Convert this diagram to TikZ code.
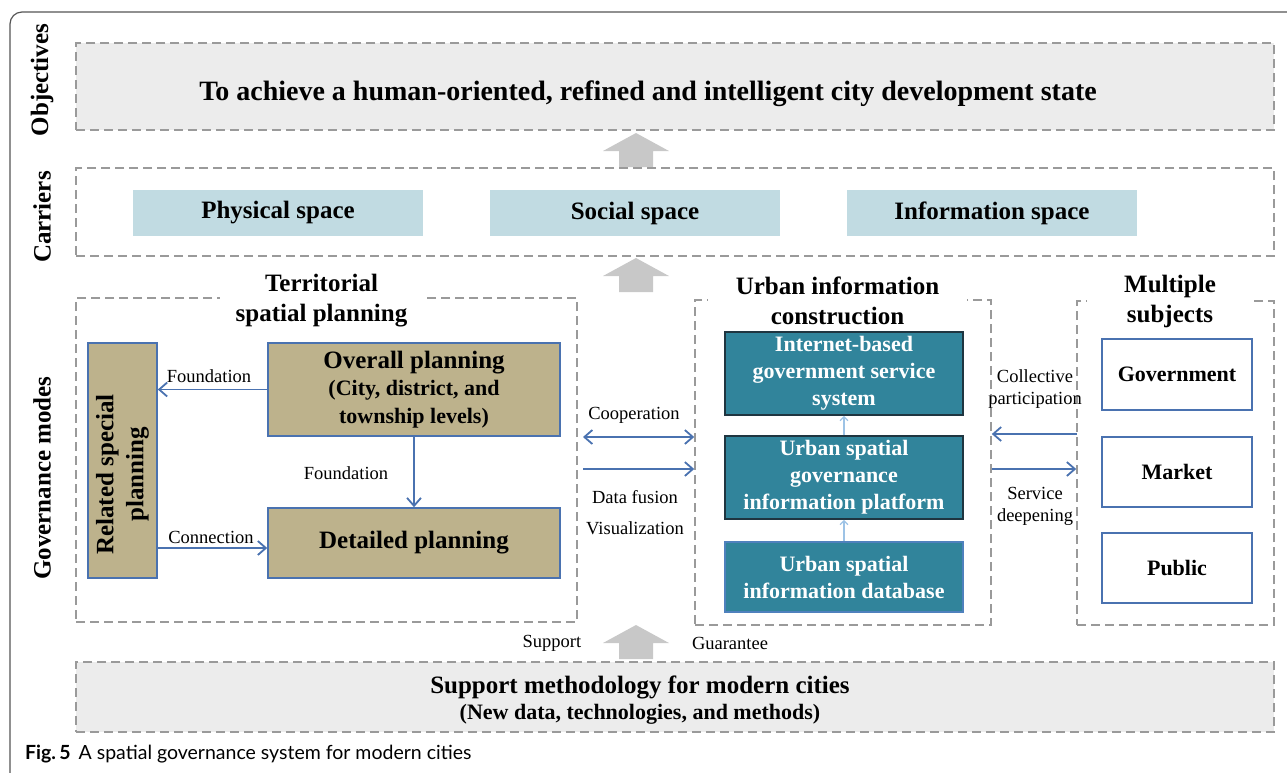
\documentclass[tikz,border=0pt]{standalone}
\usepackage{fontspec}
\setmainfont{Liberation Serif}
\newfontfamily\capfont{Lato}
\usetikzlibrary{arrows.meta}
\definecolor{dashgray}{HTML}{9A9A9A}
\definecolor{objfill}{HTML}{ECECEC}
\definecolor{carrierblue}{HTML}{C1DBE2}
\definecolor{khaki}{HTML}{BDB28C}
\definecolor{edgeblue}{HTML}{4A72B0}
\definecolor{tealbox}{HTML}{31849B}
\definecolor{tealedge}{HTML}{1F3540}
\definecolor{dbedge}{HTML}{4F81BD}
\definecolor{lightarrow}{HTML}{9DC3E6}
\definecolor{blockgray}{HTML}{C8C8C8}
\definecolor{framegray}{HTML}{555555}
\newcommand\fsTitle{\fontsize{25}{30}\selectfont\bfseries}
\newcommand\fsBig{\fontsize{28}{33}\selectfont\bfseries}
\newcommand\fsBox{\fontsize{22}{27}\selectfont\bfseries}
\newcommand\fsSub{\fontsize{22}{27.5}\selectfont\bfseries}
\newcommand\fsLbl{\fontsize{18.5}{22}\selectfont}
\tikzset{
  dashframe/.style={draw=dashgray, line width=1.6pt, dash pattern=on 9pt off 5pt, inner sep=0pt},
  greyframe/.style={dashframe, fill=objfill},
  carrier/.style={fill=carrierblue, minimum width=290pt, minimum height=46pt, inner sep=0pt, font=\fsTitle},
  plan/.style={fill=khaki, draw=edgeblue, line width=1.6pt, inner sep=0pt, align=center},
  tealnode/.style={fill=tealbox, draw=tealedge, line width=1.6pt, text=white, font=\fsBox, align=center, minimum width=238pt, inner sep=0pt},
  subject/.style={draw=edgeblue, line width=1.6pt, fill=white, minimum width=150pt, minimum height=70pt, font=\fsBox, inner sep=0pt},
  conn/.style={draw=edgeblue, line width=1.8pt, ->},
  biconn/.style={draw=edgeblue, line width=1.8pt, <->},
  smallarrow/.style={draw=lightarrow, line width=1.3pt, -{Straight Barb[length=4pt,width=8pt]}},
  lbl/.style={font=\fsLbl, inner sep=0pt, align=center},
  sidelbl/.style={font=\fsTitle, rotate=90, inner sep=0pt},
  titlelbl/.style={font=\fsTitle, fill=white, align=center, inner sep=0pt, minimum height=54pt},
  blockarrow/.pic={\fill[blockgray] (0,0) -- (33,18) -- (17,18) -- (17,34) -- (-17,34) -- (-17,18) -- (-33,18) -- cycle;}
}
\begin{document}
\begin{tikzpicture}[x=1pt,y=-1pt,>={Straight Barb[length=8pt,width=14pt]}]
\useasboundingbox (0,0) rectangle (1287,772);
% outer frame
\draw[framegray, line width=1.2pt, rounded corners=12pt] (10,790) -- (10,12) -- (1300,12);

% side labels
\node[sidelbl] (sObj) at (42,80) {Objectives};
\node[sidelbl] (sCar) at (42,217) {Carriers};
\node[sidelbl] (sGov) at (42,478) {Governance modes};

% objectives
\node[greyframe, minimum width=1198pt, minimum height=87pt] (obj) at (675,86.5) {};
\node[font=\fsBig, inner sep=0pt] (objT) at (648,94) {To achieve a human-oriented, refined and intelligent city development state};
\pic at (636,133) {blockarrow};

% carriers
\node[dashframe, minimum width=1198pt, minimum height=88pt] (car) at (675,212) {};
\node[carrier] (phys) at (278,213) {Physical space};
\node[carrier] (soc) at (635,213) {Social space};
\node[carrier] (info) at (992,213) {Information space};
\pic at (636,258) {blockarrow};

% territorial spatial planning
\node[dashframe, minimum width=501pt, minimum height=324pt] (tsp) at (326.5,460) {};
\node[titlelbl, minimum width=203pt] (tspT) at (321.5,301) {Territorial\\spatial planning};
\node[plan, rotate=90, minimum width=235pt, minimum height=69pt, font=\fsTitle] (rel) at (122.5,460.5)
  {Related special\hspace*{28pt}\\planning\hspace*{28pt}};
\node[plan, minimum width=292pt, minimum height=93pt, font=\fsSub] (ovr) at (414,389.5)
  {{\fsTitle Overall planning}\\(City, district, and\\township levels)};
\node[plan, minimum width=292pt, minimum height=70pt, font=\fsTitle] (det) at (414,543) {Detailed planning};
\draw[conn] (ovr.west) -- (ovr.west -| rel.south);
\node[lbl] (lf1) at (209,376) {Foundation};
\draw[conn] (ovr.south) -- (det.north);
\node[lbl] (lf2) at (346,473) {Foundation};
\draw[conn] ([yshift=-5pt]det.west -| rel.south) -- ([yshift=-5pt]det.west);
\node[lbl] (lcn) at (211,537) {Connection};

% urban information construction
\node[dashframe, minimum width=296pt, minimum height=325pt] (urb) at (843,462.5) {};
\node[titlelbl, minimum width=259pt] (urbT) at (837.5,301) {Urban information\\construction};
\node[tealnode, minimum height=83pt] (inet) at (844,373.5) {Internet-based\\government service\\system};
\node[tealnode, minimum height=83pt] (plat) at (844,477.5) {Urban spatial\\governance\\information platform};
\node[tealnode, draw=dbedge, minimum height=70pt] (db) at (844,577) {Urban spatial\\information database};
\draw[smallarrow] (db.north) -- (plat.south);
\draw[smallarrow] (plat.north) -- (inet.south);

% connectors between territorial and urban
\coordinate (coopL) at (583,437);
\coordinate (fusL) at (583,469);
\draw[biconn] (coopL) -- (coopL -| urb.west);
\draw[conn] (fusL) -- (fusL -| urb.west);
\node[lbl] (lcoop) at (634,415) {Cooperation};
\node[lbl] (lfus) at (635,497) {Data fusion};
\node[lbl] (lvis) at (635,528) {Visualization};

% multiple subjects
\node[dashframe, minimum width=197pt, minimum height=324pt] (mul) at (1175.5,463) {};
\node[titlelbl, minimum width=166pt] (mulT) at (1170,301) {Multiple\\subjects};
\node[subject, minimum height=71pt] (gov) at (1177,374.5) {Government};
\node[subject] (mkt) at (1177,472) {Market};
\node[subject] (pub) at (1177,568) {Public};
\coordinate (colR) at (1077,434);
\coordinate (serL) at (992,469);
\draw[conn] (colR) -- (colR -| urb.east);
\draw[conn] (serL) -- (serL -| mul.west);
\node[lbl] (lcol) at (1035,389) {Collective\\participation};
\node[lbl] (lser) at (1035,506) {Service\\deepening};

% support
\pic at (636,625) {blockarrow};
\node[lbl] (lsup) at (552,643) {Support};
\node[lbl] (lgua) at (730,643) {Guarantee};
\node[greyframe, minimum width=1198pt, minimum height=70pt] (sup) at (675,697) {};
\node[align=center, inner sep=0pt, font=\fsTitle] (supT) at (640,700)
  {Support methodology for modern cities\\[-4pt]{\fsSub (New data, technologies, and methods)}};

% caption
\node[anchor=west, inner sep=0pt, font={\capfont\fontsize{19.5}{22}\selectfont}] (cap) at (25,754)
  {{\bfseries Fig.\,5}\hspace{8pt}A spatial governance system for modern cities};
\end{tikzpicture}
\end{document}
